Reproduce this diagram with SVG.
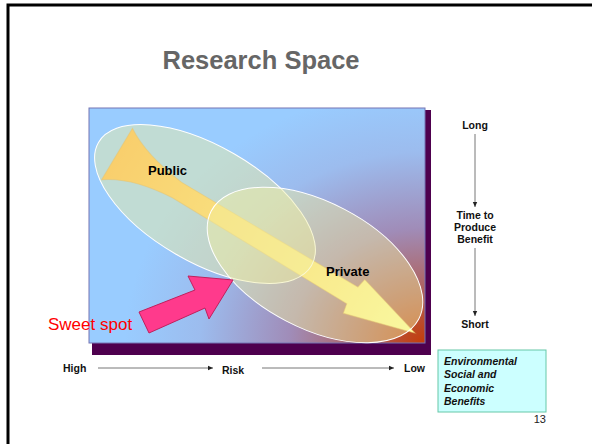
<svg xmlns="http://www.w3.org/2000/svg" width="592" height="444" viewBox="0 0 592 444">
<defs>
<style>
.lbl{font-family:"Liberation Sans",Arial,sans-serif;font-weight:bold;font-size:10.5px;fill:#111}
.ell{fill:#f2f0a0;fill-opacity:0.45;stroke:#ffffff;stroke-width:1}
.axis{stroke:#777;stroke-width:1;fill:none}
</style>
<radialGradient id="bg" gradientUnits="userSpaceOnUse" cx="425" cy="343" r="300" gradientTransform="translate(425 343) scale(1 0.85) translate(-425 -343)">
<stop offset="0" stop-color="#c43c08"/>
<stop offset="0.2" stop-color="#b0605a"/>
<stop offset="0.45" stop-color="#a08cb8"/>
<stop offset="0.75" stop-color="#9cbcee"/>
<stop offset="1" stop-color="#99ccff"/>
</radialGradient>
<linearGradient id="arrowGrad" gradientUnits="userSpaceOnUse" x1="0" y1="0" x2="348" y2="0">
<stop offset="0" stop-color="#ffb443"/>
<stop offset="0.4" stop-color="#ffd466"/>
<stop offset="1" stop-color="#ffffa0"/>
</linearGradient>
<marker id="ah" markerWidth="6" markerHeight="6" refX="5" refY="3" orient="auto" markerUnits="userSpaceOnUse">
<path d="M0,0.8 L5,3 L0,5.2 Z" fill="#222"/>
</marker>
</defs>

<path d="M8,444 L8,5 L592,5" fill="none" stroke="#000" stroke-width="3"/>

<text x="261" y="69" text-anchor="middle" font-family="Liberation Sans,Arial,sans-serif" font-weight="bold" font-size="25.5" fill="#666666">Research Space</text>

<g id="panel">
<rect x="92" y="110" width="339" height="245" fill="#4e004e"/>
<rect x="89" y="108" width="336" height="235" fill="url(#bg)" stroke="#7474b4" stroke-width="1"/>
</g>

<g id="flow-arrow">
<path transform="translate(117 154) rotate(31)" d="M0,-30 Q25,-14 70,-9 L275,-10 L277,-20 L348,0 L276,20 L274,10 L70,9 Q25,12 0,30 Z" fill="url(#arrowGrad)" stroke="#d8a050" stroke-opacity="0.5" stroke-width="1"/>
</g>

<g id="public">
<ellipse class="ell" cx="205" cy="204" rx="123" ry="58" transform="rotate(30 205 204)"/>
<text x="148" y="175" font-family="Liberation Sans,Arial,sans-serif" font-weight="bold" font-size="13" fill="#000">Public</text>
</g>

<g id="private">
<ellipse class="ell" cx="315" cy="265" rx="117" ry="63" transform="rotate(27.5 315 265)"/>
<text x="326" y="276" font-family="Liberation Sans,Arial,sans-serif" font-weight="bold" font-size="13" fill="#000">Private</text>
</g>

<g id="sweet-spot">
<polygon points="139,312 195,290 188,276 233,280 209,319 205,308 149,333" fill="#ff3a8c" stroke="#c0205c" stroke-width="1"/>
<text x="48" y="330" font-family="Liberation Sans,Arial,sans-serif" font-size="17" fill="#ff0000">Sweet spot</text>
</g>

<g id="connectors">
<line class="axis" x1="475" y1="134" x2="475" y2="207" stroke="#333" marker-end="url(#ah)"/>
<line class="axis" x1="475" y1="248" x2="475" y2="316" stroke="#333" marker-end="url(#ah)"/>
<line class="axis" x1="98" y1="368" x2="213" y2="368" marker-end="url(#ah)"/>
<line class="axis" x1="262" y1="368" x2="394" y2="368" marker-end="url(#ah)"/>
</g>

<g id="time-labels">
<text class="lbl" x="475" y="129" text-anchor="middle">Long</text>
<text class="lbl" x="475" y="219" text-anchor="middle">Time to</text>
<text class="lbl" x="475" y="231" text-anchor="middle">Produce</text>
<text class="lbl" x="475" y="243" text-anchor="middle">Benefit</text>
<text class="lbl" x="475" y="328" text-anchor="middle">Short</text>
</g>

<g id="risk-labels">
<text class="lbl" x="63" y="372">High</text>
<text class="lbl" x="222" y="374">Risk</text>
<text class="lbl" x="404" y="372">Low</text>
</g>

<g id="benefits">
<rect x="438" y="350" width="108" height="62" fill="#ccffff" stroke="#66c8a8" stroke-width="1"/>
<text class="lbl" x="444" y="365" font-style="italic">Environmental</text>
<text class="lbl" x="444" y="378" font-style="italic">Social and</text>
<text class="lbl" x="444" y="392" font-style="italic">Economic</text>
<text class="lbl" x="444" y="405" font-style="italic">Benefits</text>
</g>

<text x="546" y="423" text-anchor="end" font-family="Liberation Sans,Arial,sans-serif" font-size="11" fill="#222">13</text>
</svg>
